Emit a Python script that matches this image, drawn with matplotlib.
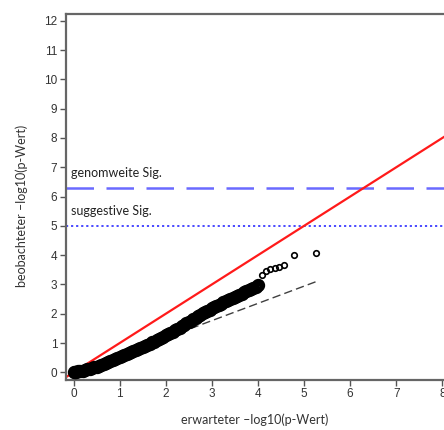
import numpy as np
import matplotlib
matplotlib.use("Agg")
import matplotlib.pyplot as plt

# erwartete / beobachtete -log10(p) (dichter Teil der Kurve)
band_x = [0.00, 0.03, 0.06, 0.10, 0.15, 0.20, 0.25, 0.30, 0.35, 0.40, 0.45,
          0.50, 0.55, 0.60, 0.65, 0.70, 0.75, 0.80, 0.85, 0.90, 0.95,
          1.00, 1.05, 1.10, 1.15, 1.20, 1.25, 1.30, 1.35, 1.40, 1.45,
          1.50, 1.55, 1.60, 1.65, 1.70, 1.75, 1.80, 1.85, 1.90, 1.95,
          2.00, 2.05, 2.10, 2.15, 2.20, 2.25, 2.30, 2.35, 2.40, 2.45,
          2.50, 2.55, 2.60, 2.65, 2.70, 2.75, 2.80, 2.85, 2.90, 2.95,
          3.00, 3.05, 3.10, 3.15, 3.20, 3.25, 3.30, 3.35, 3.40, 3.45,
          3.50, 3.55, 3.60, 3.65, 3.70, 3.75, 3.80, 3.85, 3.90, 3.95, 4.00]
band_y = [0.02, 0.02, 0.02, 0.03, 0.04, 0.06, 0.08, 0.10, 0.12, 0.15, 0.17,
          0.20, 0.23, 0.26, 0.29, 0.33, 0.36, 0.40, 0.43, 0.46, 0.49,
          0.52, 0.55, 0.59, 0.62, 0.66, 0.69, 0.73, 0.77, 0.81, 0.84,
          0.88, 0.91, 0.95, 0.98, 1.02, 1.05, 1.09, 1.13, 1.17, 1.21,
          1.26, 1.30, 1.35, 1.39, 1.44, 1.48, 1.53, 1.57, 1.62, 1.67,
          1.72, 1.77, 1.82, 1.87, 1.92, 1.96, 2.01, 2.05, 2.10, 2.14,
          2.19, 2.23, 2.27, 2.31, 2.35, 2.39, 2.43, 2.46, 2.50, 2.53,
          2.57, 2.61, 2.65, 2.69, 2.73, 2.77, 2.81, 2.85, 2.89, 2.93, 2.97]

# einzelne Punkte am Ende
tail_x = [4.08, 4.18, 4.26, 4.36, 4.45, 4.56, 4.79, 5.26]
tail_y = [3.34, 3.46, 3.52, 3.57, 3.60, 3.67, 4.01, 4.07]

# gestrichelte Linie (Anpassung)
fit_x = [0.0, 5.25]
fit_y = [0.0, 3.09]

# Diagonale
diag = [-0.3, 9.0]

genomweit = 6.3
suggestiv = 5.0

xticks = list(range(0, 9))
yticks = list(range(0, 13))

fig = plt.figure(figsize=(4.44, 4.30), dpi=100)
ax = fig.add_axes([0.148, 0.1163, 0.870, 0.851])

ax.plot(diag, diag, color="#ff1a1a", lw=1.6, zorder=2)
ax.axhline(genomweit, color="#6a6aff", lw=1.8, dashes=(11, 5), zorder=1)
ax.axhline(suggestiv, color="#3a3aff", lw=1.3, dashes=(1.2, 1.6), zorder=1)
ax.plot(fit_x, fit_y, color="#404040", lw=1.0, dashes=(6, 3), zorder=3)

ax.plot(band_x, band_y, "o", mfc="none", mec="black", ms=7, mew=2.6, zorder=4)
ax.plot(tail_x, tail_y, "o", mfc="none", mec="black", ms=4, mew=1.2, zorder=4)

ax.text(-0.05, 6.8, "genomweite Sig.", family="Lato", fontsize=9,
        color="#222222", va="center", ha="left")
ax.text(-0.05, 5.5, "suggestive Sig.", family="Lato", fontsize=9,
        color="#222222", va="center", ha="left")

ax.set_xlim(-0.17, 8.21)
ax.set_ylim(-0.26, 12.23)
ax.set_xticks(xticks)
ax.set_yticks(yticks)
ax.tick_params(direction="out", length=4, width=1, color="#555555",
               labelcolor="#333333", labelsize=8.5, pad=2)
for lab in ax.get_xticklabels() + ax.get_yticklabels():
    lab.set_family("Liberation Sans")
for s in ax.spines.values():
    s.set_color("#666666")
    s.set_linewidth(1.6)

fig.text(0.574, 0.024, "erwarteter \u2013log10(p-Wert)", family="Lato",
         fontsize=9, color="#333333", ha="center", va="center")
fig.text(0.050, 0.521, "beobachteter \u2013log10(p-Wert)", family="Lato",
         fontsize=9, color="#333333", ha="center", va="center", rotation=90)

fig.savefig("out.png", dpi=100)
